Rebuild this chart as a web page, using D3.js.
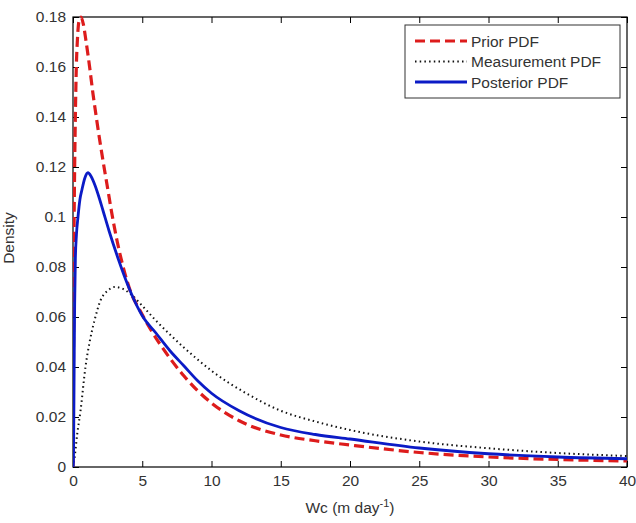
<!DOCTYPE html>
<html>
<head>
<meta charset="utf-8">
<script src="https://cdn.jsdelivr.net/npm/d3@7"></script>
<style>
  html, body { margin: 0; padding: 0; background: #fff; }
  svg { display: block; }
  text { font-family: Arial, "Liberation Sans", sans-serif; }
</style>
</head>
<body>
<svg id="chart" width="636" height="523"></svg>
<script>
// ---- Data ----
const seriesNames = ["Prior PDF", "Measurement PDF", "Posterior PDF"];

const priorX = [0, 0.03, 0.07, 0.12, 0.17, 0.24, 0.32, 0.42, 0.58, 0.75, 0.95, 1.2, 1.45, 1.68, 1.95, 2.24, 2.5, 2.77, 3.2, 3.6, 4.2, 4.8, 5.5, 6.3, 7, 8, 9, 10, 12, 15, 17.5, 20, 25, 30, 35, 40];
const priorY = [0, 0.04, 0.09, 0.12, 0.14, 0.16, 0.171, 0.178, 0.18, 0.177, 0.170, 0.16, 0.149, 0.14, 0.13, 0.12, 0.1115, 0.1025, 0.090, 0.0805, 0.0695, 0.063, 0.056, 0.049, 0.0435, 0.0365, 0.0305, 0.0256, 0.0185, 0.0128, 0.0105, 0.0088, 0.0058, 0.0040, 0.0030, 0.0024];

const measX = [0, 0.12, 0.3, 0.55, 0.9, 1.2, 1.56, 2.0, 2.5, 3.0, 3.5, 4.2, 5, 6, 7, 8, 9, 10, 12.5, 15, 17.5, 20, 25, 30, 35, 40];
const measY = [0, 0.004, 0.013, 0.0228, 0.040, 0.050, 0.0588, 0.0668, 0.0705, 0.072, 0.0715, 0.069, 0.0645, 0.0585, 0.053, 0.0478, 0.043, 0.0385, 0.0295, 0.0225, 0.0182, 0.0148, 0.0102, 0.0075, 0.0056, 0.0044];

const postX = [0, 0.02, 0.06, 0.09, 0.12, 0.17, 0.25, 0.36, 0.5, 0.65, 0.85, 1.08, 1.3, 1.6, 1.9, 2.17, 2.6, 3.25, 3.7, 4.2, 5, 6, 7, 8, 9, 10, 12, 15, 17.5, 20, 25, 30, 35, 40];
const postY = [0, 0, 0.02, 0.045, 0.065, 0.083, 0.093, 0.100, 0.107, 0.111, 0.1155, 0.1177, 0.1163, 0.1125, 0.1075, 0.1025, 0.0945, 0.0835, 0.0765, 0.0695, 0.0605, 0.0535, 0.0465, 0.0405, 0.0345, 0.0295, 0.0225, 0.0158, 0.013, 0.0112, 0.0076, 0.0053, 0.0040, 0.0033];

const xTicks = [0, 5, 10, 15, 20, 25, 30, 35, 40];
const yTicks = [0, 0.02, 0.04, 0.06, 0.08, 0.1, 0.12, 0.14, 0.16, 0.18];
const yTickLabels = ["0", "0.02", "0.04", "0.06", "0.08", "0.1", "0.12", "0.14", "0.16", "0.18"];

// ---- Layout ----
const svg = d3.select("#chart");
const margin = { left: 73, top: 17, right: 636 - 627, bottom: 523 - 467 };
const W = 636 - margin.left - margin.right;
const H = 523 - margin.top - margin.bottom;

const x = d3.scaleLinear().domain([0, 40]).range([0, W]);
const y = d3.scaleLinear().domain([0, 0.18]).range([H, 0]);

const g = svg.append("g").attr("transform", `translate(${margin.left},${margin.top})`);

g.append("clipPath").attr("id", "clip")
  .append("rect").attr("x", 0).attr("y", -2).attr("width", W).attr("height", H + 2);

const tickLen = 6;
const labelColor = "#333";
const fontSize = "15.5px";

// Bottom axis
const xAxisB = d3.axisBottom(x).tickValues(xTicks).tickSizeInner(-tickLen).tickSizeOuter(0).tickPadding(8).tickFormat(d3.format("d"));
const gxb = g.append("g").attr("transform", `translate(0,${H})`).call(xAxisB);
// Top axis
const xAxisT = d3.axisTop(x).tickValues(xTicks).tickSizeInner(-tickLen).tickSizeOuter(0).tickFormat("");
const gxt = g.append("g").call(xAxisT);
// Left axis
const yAxisL = d3.axisLeft(y).tickValues(yTicks).tickSizeInner(-tickLen).tickSizeOuter(0).tickPadding(7)
  .tickFormat((d, i) => yTickLabels[i]);
const gyl = g.append("g").call(yAxisL);
// Right axis
const yAxisR = d3.axisRight(y).tickValues(yTicks).tickSizeInner(-tickLen).tickSizeOuter(0).tickFormat("");
const gyr = g.append("g").attr("transform", `translate(${W},0)`).call(yAxisR);

[gxb, gxt, gyl, gyr].forEach(a => {
  a.select(".domain").remove();
  a.selectAll(".tick line").attr("stroke", "#000").attr("stroke-width", 1);
  a.selectAll(".tick text").attr("fill", labelColor).style("font-size", fontSize)
    .style("font-family", "Arial, 'Liberation Sans', sans-serif");
});
gxb.selectAll(".tick text").attr("dy", "0.71em");

// Box
g.append("rect").attr("x", 0).attr("y", 0).attr("width", W).attr("height", H)
  .attr("fill", "none").attr("stroke", "#000").attr("stroke-width", 1.2);

// Lines
const line = d3.line().x(d => x(d[0])).y(d => y(d[1])).curve(d3.curveMonotoneX);
const zip = (a, b) => a.map((v, i) => [v, b[i]]);

const plot = g.append("g").attr("clip-path", "url(#clip)");

const styles = [
  { data: zip(measX, measY), color: "#111", width: 2, dash: "1.5,3.2" },
  { data: zip(priorX, priorY), color: "#dd1c1c", width: 3.2, dash: "10,5" },
  { data: zip(postX, postY), color: "#0b1bc6", width: 2.8, dash: null }
];
styles.forEach(s => {
  const p = plot.append("path").datum(s.data).attr("d", line)
    .attr("fill", "none").attr("stroke", s.color).attr("stroke-width", s.width)
    .attr("stroke-linejoin", "round");
  if (s.dash) p.attr("stroke-dasharray", s.dash);
});

// Axis labels
svg.append("text").attr("x", margin.left + W / 2).attr("y", 513)
  .attr("text-anchor", "middle").attr("fill", labelColor).style("font-size", fontSize)
  .html('Wc (m day<tspan dy="-6" font-size="11px">-1</tspan><tspan dy="6">)</tspan>');

svg.append("text").attr("transform", `translate(14,${margin.top + H / 2 - 4}) rotate(-90)`)
  .attr("text-anchor", "middle").attr("fill", labelColor).style("font-size", fontSize)
  .text("Density");

// Legend
const lg = svg.append("g");
lg.append("rect").attr("x", 405).attr("y", 25).attr("width", 215).attr("height", 73)
  .attr("fill", "#fff").attr("stroke", "#333").attr("stroke-width", 1);
const legendItems = [
  { name: seriesNames[0], s: styles[1], y: 41 },
  { name: seriesNames[1], s: styles[0], y: 61.5 },
  { name: seriesNames[2], s: styles[2], y: 82 }
];
legendItems.forEach(it => {
  const l = lg.append("line").attr("x1", 415).attr("x2", 467).attr("y1", it.y).attr("y2", it.y)
    .attr("stroke", it.s.color).attr("stroke-width", it.s.width);
  if (it.s.dash) l.attr("stroke-dasharray", it.s.dash);
  lg.append("text").attr("x", 471).attr("y", it.y).attr("dy", "0.36em")
    .attr("fill", labelColor).style("font-size", fontSize).text(it.name);
});
</script>
</body>
</html>
